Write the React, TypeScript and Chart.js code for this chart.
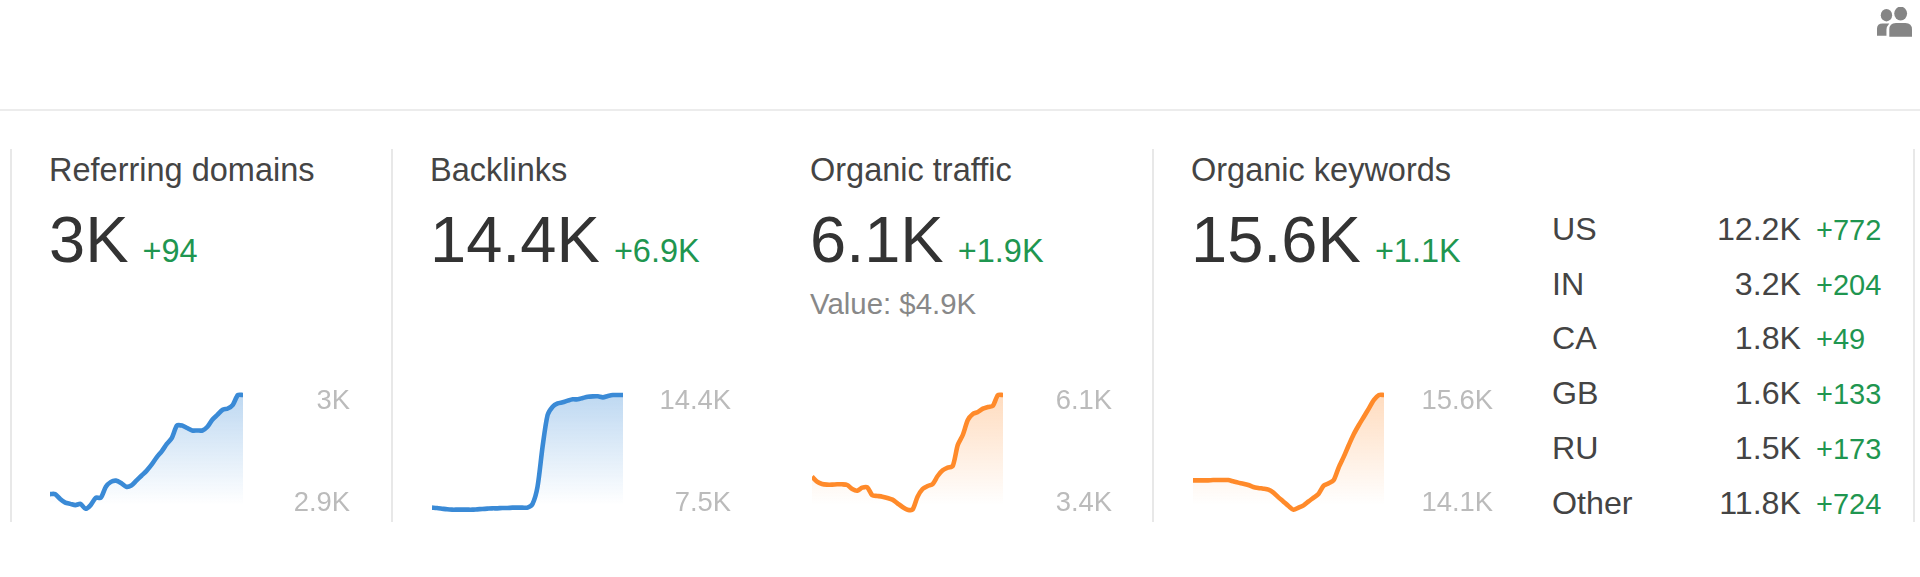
import React, { useEffect, useRef } from "react";
import { Chart, registerables } from "chart.js";

Chart.register(...registerables);

const FONT = '"Liberation Sans", Arial, sans-serif';

const referringDomains = [2919, 2919, 2915, 2912, 2911, 2910, 2911, 2907, 2910, 2916, 2916, 2925, 2929, 2930, 2928, 2925, 2926, 2930, 2934, 2938, 2943, 2949, 2954, 2960, 2965, 2975, 2975, 2973, 2971, 2971, 2971, 2974, 2980, 2984, 2988, 2989, 2992, 3000, 3000];
const backlinks = [7640, 7620, 7580, 7540, 7520, 7520, 7520, 7520, 7520, 7540, 7560, 7580, 7600, 7600, 7620, 7620, 7640, 7640, 7640, 7640, 7860, 8900, 11300, 13200, 13700, 13900, 13960, 14060, 14140, 14140, 14220, 14300, 14320, 14320, 14260, 14340, 14400, 14400, 14400];
const organicTraffic = [4183, 4065, 4010, 3995, 3995, 4003, 4003, 3987, 3893, 3854, 3924, 3932, 3744, 3729, 3713, 3682, 3643, 3557, 3470, 3408, 3408, 3713, 3893, 3963, 4010, 4198, 4331, 4394, 4433, 4926, 5161, 5513, 5654, 5701, 5779, 5818, 5849, 6100, 6100];
const organicKeywords = [14487, 14487, 14487, 14487, 14491, 14491, 14491, 14491, 14474, 14457, 14443, 14426, 14400, 14387, 14378, 14365, 14326, 14265, 14209, 14152, 14104, 14130, 14161, 14213, 14261, 14313, 14417, 14448, 14491, 14657, 14796, 14948, 15091, 15209, 15317, 15426, 15535, 15600, 15600];

const countries = ["US", "IN", "CA", "GB", "RU", "Other"];
const countryValues = ["12.2K", "3.2K", "1.8K", "1.6K", "1.5K", "11.8K"];
const countryDeltas = ["+772", "+204", "+49", "+133", "+173", "+724"];

const BLUE = { line: "#3a8ad6", fill: "rgba(58,138,214,0.33)", clear: "rgba(58,138,214,0)" };
const ORANGE = { line: "#ff8a2a", fill: "rgba(255,138,42,0.30)", clear: "rgba(255,138,42,0)" };

const panels = [
  { title: "Referring domains", big: "3K", delta: "+94", textX: 49, chartX: 50, plotW: 193, labelRight: 350, data: referringDomains, hi: 3000, lo: 2906, labels: ["3K", "2.9K"], color: BLUE },
  { title: "Backlinks", big: "14.4K", delta: "+6.9K", textX: 430, chartX: 432, plotW: 191, labelRight: 731, data: backlinks, hi: 14400, lo: 7500, labels: ["14.4K", "7.5K"], color: BLUE },
  { title: "Organic traffic", big: "6.1K", delta: "+1.9K", textX: 810, chartX: 812, plotW: 191, labelRight: 1112, data: organicTraffic, hi: 6100, lo: 3400, labels: ["6.1K", "3.4K"], color: ORANGE, sub: "Value: $4.9K" },
  { title: "Organic keywords", big: "15.6K", delta: "+1.1K", textX: 1191, chartX: 1193, plotW: 191, labelRight: 1493, data: organicKeywords, hi: 15600, lo: 14100, labels: ["15.6K", "14.1K"], color: ORANGE },
];

const separators = [10, 391, 1152, 1913];

const CHART_TOP = 380;
const CHART_H = 150;
const PLOT_H = 115; // pixels between the max and the min of a series
const PAD_TOP = 15;

function Spark({ p }: { p: (typeof panels)[number] }) {
  const ref = useRef<HTMLCanvasElement>(null);
  useEffect(() => {
    const range = p.hi - p.lo;
    const perPx = range / PLOT_H;
    const chart = new Chart(ref.current!, {
      type: "line",
      data: {
        labels: p.data.map((_, i) => String(i)),
        datasets: [
          {
            data: p.data,
            borderColor: p.color.line,
            borderWidth: 4.6,
            pointRadius: 0,
            tension: 0.25,
            fill: "start",
            backgroundColor: (ctx: any) => {
              const g = ctx.chart.ctx.createLinearGradient(0, PAD_TOP, 0, PAD_TOP + 110);
              g.addColorStop(0, p.color.fill);
              g.addColorStop(1, p.color.clear);
              return g;
            },
          },
        ],
      },
      options: {
        animation: false,
        responsive: false,
        layout: { padding: 0 },
        plugins: { legend: { display: false }, tooltip: { enabled: false } },
        scales: {
          x: { display: false, offset: false },
          y: {
            position: "right",
            min: p.lo - (CHART_H - PAD_TOP - PLOT_H) * perPx,
            max: p.hi + PAD_TOP * perPx,
            grid: { display: false },
            border: { display: false },
            afterBuildTicks: (axis: any) => {
              axis.ticks = [{ value: p.hi - 6 * perPx }, { value: p.lo + 7 * perPx }];
            },
            afterFit: (axis: any) => {
              axis.width = p.labelRight - p.chartX - p.plotW;
              axis.paddingTop = 0;
              axis.paddingBottom = 0;
            },
            ticks: {
              autoSkip: false,
              padding: 0,
              crossAlign: "far",
              color: "#bbbbbb",
              font: { family: FONT, size: 27.4 },
              callback: (_: any, i: number) => p.labels[i],
            },
          },
        },
      },
    } as any);
    return () => chart.destroy();
  }, []);
  return (
    <canvas
      ref={ref}
      width={p.labelRight - p.chartX}
      height={CHART_H}
      style={{ position: "absolute", left: p.chartX, top: CHART_TOP, width: p.labelRight - p.chartX, height: CHART_H }}
    />
  );
}

const abs = (o: React.CSSProperties): React.CSSProperties => ({ position: "absolute", whiteSpace: "nowrap", ...o });

export default function App() {
  return (
    <div style={{ position: "absolute", left: 0, top: 0, width: 1920, height: 577, overflow: "hidden", background: "#fff", fontFamily: FONT }}>
      <svg viewBox="3 0 18.5 14.6" preserveAspectRatio="none" style={abs({ left: 1877, top: 7, width: 35, height: 30 })} fill="#858585">
        <circle cx="8" cy="4" r="3" />
        <circle cx="15.5" cy="3.2" r="3.4" />
        <path d="M3 14 V10.5 Q3 8 6 8 H9.5 Q8 9.5 8 11 V14 Z" />
        <path d="M9.5 14.5 V11 Q9.5 7.8 13 7.8 H18 Q21.5 7.8 21.5 11 V14.5 Z" />
      </svg>
      <div style={abs({ left: 0, top: 109, width: 1920, height: 2, background: "#ececec" })} />
      {separators.map((x) => (
        <div key={x} style={abs({ left: x, top: 149, width: 2, height: 373, background: "#e8e8e8" })} />
      ))}
      {panels.map((p) => (
        <React.Fragment key={p.title}>
          <div style={abs({ left: p.textX, top: 151, fontSize: 32.5, lineHeight: "38px", color: "#444" })}>{p.title}</div>
          <div style={abs({ left: p.textX, top: 204, lineHeight: "72px", color: "#333", display: "flex", alignItems: "baseline", gap: 14 })}>
            <span style={{ fontSize: 65 }}>{p.big}</span>
            <span style={{ fontSize: 32.5, color: "#1f9650" }}>{p.delta}</span>
          </div>
          {p.sub && <div style={abs({ left: p.textX, top: 287, fontSize: 29.4, lineHeight: "34px", color: "#888" })}>{p.sub}</div>}
          <Spark p={p} />
        </React.Fragment>
      ))}
      {countries.map((c, i) => {
        const top = 211 + i * 54.7;
        return (
          <React.Fragment key={c}>
            <div style={abs({ left: 1552, top, fontSize: 32.2, lineHeight: "36px", color: "#444" })}>{c}</div>
            <div style={abs({ right: 1920 - 1801, top, fontSize: 32.2, lineHeight: "36px", color: "#444" })}>{countryValues[i]}</div>
            <div style={abs({ left: 1816, top: top + 1, fontSize: 29, lineHeight: "36px", color: "#1f9650" })}>{countryDeltas[i]}</div>
          </React.Fragment>
        );
      })}
    </div>
  );
}
